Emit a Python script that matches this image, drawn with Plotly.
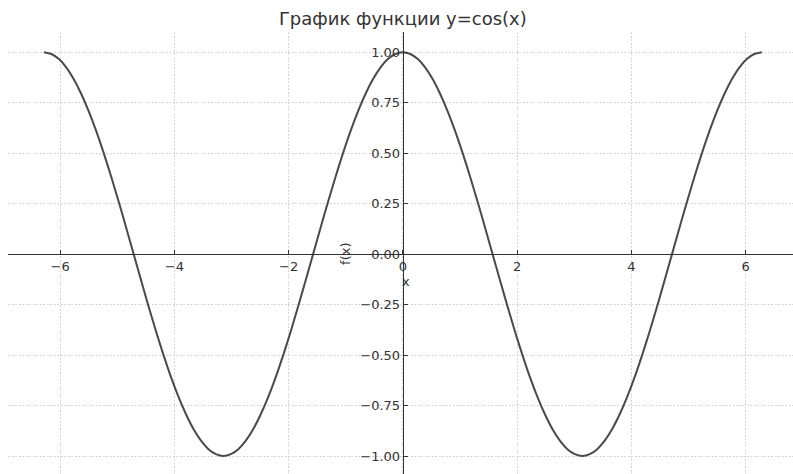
import plotly.graph_objects as go

# Sample points of y = cos(x) over [-2π, 2π] (step π/24)
x_vals = [-6.283, -6.152, -6.021, -5.890, -5.760, -5.629, -5.498, -5.367, -5.236,
          -5.105, -4.974, -4.843, -4.712, -4.581, -4.451, -4.320, -4.189, -4.058,
          -3.927, -3.796, -3.665, -3.534, -3.403, -3.272, -3.142, -3.011, -2.880,
          -2.749, -2.618, -2.487, -2.356, -2.225, -2.094, -1.963, -1.833, -1.702,
          -1.571, -1.440, -1.309, -1.178, -1.047, -0.916, -0.785, -0.654, -0.524,
          -0.393, -0.262, -0.131, 0.000, 0.131, 0.262, 0.393, 0.524, 0.654,
          0.785, 0.916, 1.047, 1.178, 1.309, 1.440, 1.571, 1.702, 1.833,
          1.963, 2.094, 2.225, 2.356, 2.487, 2.618, 2.749, 2.880, 3.011,
          3.142, 3.272, 3.403, 3.534, 3.665, 3.796, 3.927, 4.058, 4.189,
          4.320, 4.451, 4.581, 4.712, 4.843, 4.974, 5.105, 5.236, 5.367,
          5.498, 5.629, 5.760, 5.890, 6.021, 6.152, 6.283]
y_vals = [1.000, 0.991, 0.966, 0.924, 0.866, 0.793, 0.707, 0.609, 0.500,
          0.383, 0.259, 0.131, 0.000, -0.131, -0.259, -0.383, -0.500, -0.609,
          -0.707, -0.793, -0.866, -0.924, -0.966, -0.991, -1.000, -0.991, -0.966,
          -0.924, -0.866, -0.793, -0.707, -0.609, -0.500, -0.383, -0.259, -0.131,
          0.000, 0.131, 0.259, 0.383, 0.500, 0.609, 0.707, 0.793, 0.866,
          0.924, 0.966, 0.991, 1.000, 0.991, 0.966, 0.924, 0.866, 0.793,
          0.707, 0.609, 0.500, 0.383, 0.259, 0.131, 0.000, -0.131, -0.259,
          -0.383, -0.500, -0.609, -0.707, -0.793, -0.866, -0.924, -0.966, -0.991,
          -1.000, -0.991, -0.966, -0.924, -0.866, -0.793, -0.707, -0.609, -0.500,
          -0.383, -0.259, -0.131, 0.000, 0.131, 0.259, 0.383, 0.500, 0.609,
          0.707, 0.793, 0.866, 0.924, 0.966, 0.991, 1.000]

x_ticks = [-6, -4, -2, 0, 2, 4, 6]
y_ticks = [-1.0, -0.75, -0.5, -0.25, 0.0, 0.25, 0.5, 0.75, 1.0]
y_tick_text = ["\u22121.00", "\u22120.75", "\u22120.50", "\u22120.25", "0.00",
               "0.25", "0.50", "0.75", "1.00"]

x_range = [-6.912, 6.83]
y_range = [-1.089, 1.1]

font_family = "DejaVu Sans, sans-serif"
axis_color = "#333333"
grid_style = dict(showgrid=True, gridcolor="#d6d6d6", griddash="2px,1.5px", gridwidth=1)

fig = go.Figure()
fig.add_trace(go.Scatter(
    x=x_vals, y=y_vals, mode="lines",
    line=dict(color="#4a4a4a", width=2, shape="spline", smoothing=0.8),
    hoverinfo="skip", showlegend=False,
))

# position of the spines crossing at the origin, in plot-area fractions
x_axis_pos = (0 - y_range[0]) / (y_range[1] - y_range[0])
y_axis_pos = (0 - x_range[0]) / (x_range[1] - x_range[0])

fig.update_layout(
    width=793, height=474,
    margin=dict(l=8, r=0, t=32, b=0),
    paper_bgcolor="white", plot_bgcolor="white",
    font=dict(family=font_family, size=13, color="#333333"),
    title=dict(text="График функции y=cos(x)", x=0.508, xanchor="center",
               y=0.96, yanchor="middle",
               font=dict(family=font_family, size=18, color="#333333")),
    xaxis=dict(
        range=x_range, anchor="free", position=x_axis_pos,
        tickmode="array", tickvals=x_ticks,
        ticks="inside", ticklen=4, tickcolor=axis_color, tickwidth=1,
        showline=True, linecolor=axis_color, linewidth=1.2,
        zeroline=False, tickfont=dict(size=13, color="#333333"),
        **grid_style,
    ),
    yaxis=dict(
        range=y_range, anchor="free", position=y_axis_pos,
        tickmode="array", tickvals=y_ticks, ticktext=y_tick_text,
        ticks="inside", ticklen=4, tickcolor=axis_color, tickwidth=1,
        showline=True, linecolor=axis_color, linewidth=1.2,
        zeroline=False, tickfont=dict(size=13, color="#333333"),
        **grid_style,
    ),
    annotations=[
        dict(text="x", x=0.05, y=0, xref="x", yref="y", xanchor="center",
             yanchor="top", yshift=-18, showarrow=False,
             font=dict(size=13, color="#333333")),
        dict(text="f(x)", x=0, y=0, xref="x", yref="y", xanchor="center",
             yanchor="middle", xshift=-58, textangle=-90, showarrow=False,
             font=dict(size=13, color="#333333")),
    ],
)

fig.write_html("out.html")
